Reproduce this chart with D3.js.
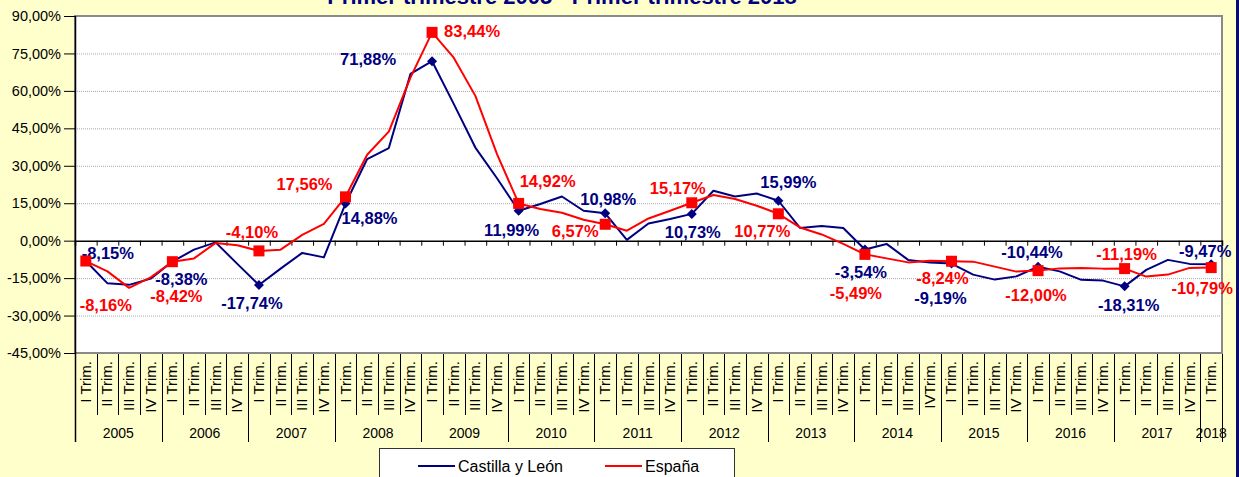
<!DOCTYPE html>
<html>
<head>
<meta charset="utf-8">
<script src="https://cdn.jsdelivr.net/npm/d3@7"></script>
<style>
  body { margin: 0; background: #FFFFCC; }
  svg { display: block; font-family: "Liberation Sans", Arial, sans-serif; }
</style>
</head>
<body>
<svg id="chart" width="1239" height="477"></svg>
<script>
// one entry per quarter, 2005 I Trim. .. 2018 I Trim.
const quarters = [
    "I Trim.", "II Trim.", "III Trim.", "IV Trim.",
    "I Trim.", "II Trim.", "III Trim.", "IV Trim.",
    "I Trim.", "II Trim.", "III Trim.", "IV Trim.",
    "I Trim.", "II Trim.", "III Trim.", "IV Trim.",
    "I Trim.", "II Trim.", "III Trim.", "IV Trim.",
    "I Trim.", "II Trim.", "III Trim.", "IV Trim.",
    "I Trim.", "II Trim.", "III Trim.", "IV Trim.",
    "I Trim.", "II Trim.", "III Trim.", "IV Trim.",
    "I Trim.", "II Trim.", "III Trim.", "IV Trim.",
    "I Trim.", "II Trim.", "III Trim.", "IVTrim.",
    "I Trim.", "II Trim.", "III Trim.", "IV Trim.",
    "I Trim.", "II Trim.", "III Trim.", "IV Trim.",
    "I Trim.", "II Trim.", "III Trim.", "IV Trim.",
    "I Trim."
]
const years = ["2005", "2006", "2007", "2008", "2009", "2010", "2011", "2012", "2013", "2014", "2015", "2016", "2017", "2018"]

const castilla_leon = [
    -8.15, -17.1, -17.7, -15.2,
    -8.38, -3.6, -0.7, -9.3,
    -17.74, -11.2, -4.9, -6.7,
    14.88, 32.7, 37.1, 66.8,
    71.88, 54.8, 37.3, 25.0,
    11.99, 14.7, 17.7, 12.0,
    10.98, 0.3, 6.9, 8.7,
    10.73, 20.0, 17.7, 18.9,
    15.99, 5.1, 5.9, 5.1,
    -3.54, -1.3, -7.7, -8.7,
    -9.19, -13.6, -15.6, -14.3,
    -10.44, -12.3, -15.7, -16.0,
    -18.31, -11.7, -7.7, -9.3,
    -9.47
]
const espana = [
    -8.16, -12.3, -18.9, -14.7,
    -8.42, -7.1, -0.9, -1.8,
    -4.10, -3.6, 2.3, 6.7,
    17.56, 34.4, 43.7, 65.3,
    83.44, 73.3, 58.0, 34.7,
    14.92, 12.7, 11.2, 8.4,
    6.57, 4.0, 8.9, 12.0,
    15.17, 18.3, 16.7, 14.0,
    10.77, 5.3, 2.5, -1.3,
    -5.49, -7.1, -8.7, -8.0,
    -8.24, -8.4, -10.4, -12.4,
    -12.00, -11.1, -10.9, -11.2,
    -11.19, -14.4, -13.6, -10.9,
    -10.79
]
const y_ticks = [-45, -30, -15, 0, 15, 30, 45, 60, 75, 90]

// where each I Trim. value label sits relative to its marker (dx, dy to baseline)
const cyl_label_offsets = [[22, -2], [9, 23], [-7, 24], [24, 20], [-64, 4], [-7, 25], [3, -8],
    [1, 24], [10, -13], [-4, 28], [-11, 40], [-6, -9], [4, 25], [-6, -7]]
const esp_label_offsets = [[20, 50], [4, 40], [-7, -13], [-41, -7], [40, 5], [29, -16], [-30, 13],
    [-14, -9], [-16, 23], [-9, 45], [-9, 23], [-2, 30], [2, -9], [-9, 26]]

const BLUE = "#000080"
const RED = "#FF0000"
const plot = {left: 75, right: 1222, top: 16, bottom: 353}

const es_locale = d3.formatLocale({decimal: ",", thousands: ".", grouping: [3], currency: ["", " €"], minus: "-"})
const fmt2 = es_locale.format(".2f")
function pct(v) { return fmt2(v) + "%" }

let svg = d3.select("#chart")

let x = d3.scaleBand().domain(d3.range(quarters.length)).range([plot.left, plot.right]).padding(0)
let x_edge = d3.scaleLinear().domain([0, quarters.length]).range([plot.left, plot.right])
let y = d3.scaleLinear().domain([-45, 90]).range([plot.bottom, plot.top])
let cx = i => x(i) + x.bandwidth() / 2

// title, mostly cut off at the top edge
svg.append("text")
    .attr("x", 562).attr("y", 4)
    .attr("text-anchor", "middle")
    .attr("font-size", "22px").attr("font-weight", "bold")
    .attr("fill", BLUE)
    .text("Primer trimestre 2005 - Primer trimestre 2018")

// plot area
svg.append("rect")
    .attr("x", plot.left).attr("y", plot.top)
    .attr("width", plot.right - plot.left).attr("height", plot.bottom - plot.top)
    .attr("fill", "#FFFFFF")
    .attr("stroke", "#8a8a8a").attr("stroke-width", 2)

// gridlines
svg.append("g")
    .selectAll("line")
    .data(y_ticks.filter(t => t != 0 && t != 90 && t != -45))
    .join("line")
    .attr("x1", plot.left).attr("x2", plot.right - 1)
    .attr("y1", d => y(d) + 0.5).attr("y2", d => y(d) + 0.5)
    .attr("stroke", "#a8a8a8").attr("stroke-width", 1)
    .attr("stroke-dasharray", "1,1")

// y axis
let y_axis = svg.append("g")
    .attr("transform", `translate(${plot.left},0)`)
    .call(d3.axisLeft(y).tickValues(y_ticks).tickSize(11).tickPadding(3).tickFormat(pct))
y_axis.select(".domain").remove()
y_axis.selectAll("line").attr("stroke", "#000")
y_axis.selectAll("text")
    .attr("font-size", "14.5px").attr("fill", "#000")
    .attr("font-family", "'Liberation Sans', Arial, sans-serif")

svg.append("line")
    .attr("x1", plot.left + 0.5).attr("x2", plot.left + 0.5)
    .attr("y1", plot.top).attr("y2", 442)
    .attr("stroke", "#000").attr("stroke-width", 1.5)

// zero line with category tick marks
let zero_axis = svg.append("g")
    .attr("transform", `translate(0,${y(0)})`)
    .call(d3.axisBottom(x_edge).tickValues(d3.range(quarters.length + 1)).tickSize(5).tickFormat(""))
zero_axis.select(".domain").attr("stroke", "#000").attr("stroke-width", 1.5)
zero_axis.selectAll(".tick line").attr("stroke", "#000")

// category separators below the plot
svg.append("g")
    .selectAll("line")
    .data(d3.range(1, quarters.length + 1))
    .join("line")
    .attr("x1", d => Math.round(x_edge(d)) + 0.5).attr("x2", d => Math.round(x_edge(d)) + 0.5)
    .attr("y1", plot.bottom + 1)
    .attr("y2", d => (d % 4 == 0 || d == quarters.length) ? 442 : 415)
    .attr("stroke", "#000").attr("stroke-width", 1)

// quarter labels (rotated)
svg.append("g")
    .selectAll("text")
    .data(quarters)
    .join("text")
    .attr("transform", (d, i) => `translate(${cx(i) + 5},361) rotate(-90)`)
    .attr("text-anchor", "end")
    .attr("font-size", "15px").attr("fill", "#000")
    .text(d => d)

// year labels
svg.append("g")
    .selectAll("text")
    .data(years)
    .join("text")
    .attr("x", (d, i) => {
        let first = i * 4
        let last = Math.min(first + 3, quarters.length - 1)
        return (cx(first) + cx(last)) / 2
    })
    .attr("y", 438)
    .attr("text-anchor", "middle")
    .attr("font-size", "14px").attr("fill", "#000")
    .text(d => d)

// series
let line = d3.line().x((d, i) => cx(i)).y(d => y(d))

function draw_series(values, color, marker, offsets) {
    svg.append("path")
        .datum(values)
        .attr("d", line)
        .attr("fill", "none")
        .attr("stroke", color).attr("stroke-width", 2)
        .attr("stroke-linejoin", "round")

    let first_quarters = d3.range(0, values.length, 4)
    svg.append("g")
        .selectAll("path")
        .data(first_quarters)
        .join("path")
        .attr("d", marker)
        .attr("transform", i => `translate(${cx(i)},${y(values[i])})` + (color == BLUE ? " rotate(45)" : ""))
        .attr("fill", color)

    svg.append("g")
        .selectAll("text")
        .data(first_quarters)
        .join("text")
        .attr("x", (i, k) => cx(i) + offsets[k][0])
        .attr("y", (i, k) => y(values[i]) + offsets[k][1])
        .attr("text-anchor", "middle")
        .attr("font-size", "16.5px").attr("font-weight", "bold")
        .attr("fill", color)
        .text(i => pct(values[i]))
}

draw_series(castilla_leon, BLUE, d3.symbol().type(d3.symbolSquare).size(50)(), cyl_label_offsets)
draw_series(espana, RED, d3.symbol().type(d3.symbolSquare).size(121)(), esp_label_offsets)

// legend
let legend = svg.append("g")
legend.append("rect")
    .attr("x", 379.5).attr("y", 448.5)
    .attr("width", 355).attr("height", 40)
    .attr("fill", "#FFFFFF").attr("stroke", "#333").attr("stroke-width", 1)
let legend_items = [{name: "Castilla y León", color: BLUE, x: 418}, {name: "España", color: RED, x: 605}]
legend_items.forEach(function(item) {
    legend.append("line")
        .attr("x1", item.x).attr("x2", item.x + 37)
        .attr("y1", 466).attr("y2", 466)
        .attr("stroke", item.color).attr("stroke-width", 2)
    legend.append("text")
        .attr("x", item.x + 40).attr("y", 472)
        .attr("font-size", "16px").attr("fill", "#000")
        .text(item.name)
})

// frame edge on the right
svg.append("rect")
    .attr("x", 1236).attr("y", 0)
    .attr("width", 3).attr("height", 477)
    .attr("fill", "#0a0a6e")
</script>
</body>
</html>
